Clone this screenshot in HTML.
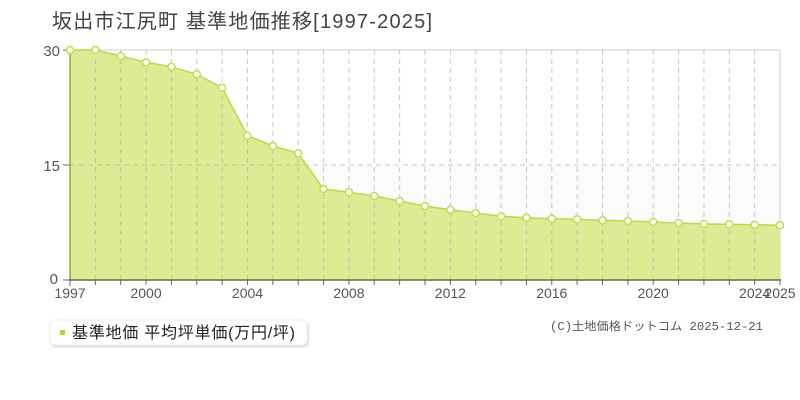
<!DOCTYPE html>
<html>
<head>
<meta charset="utf-8">
<style>
html,body{margin:0;padding:0;background:#fff;}
body{width:800px;height:400px;overflow:hidden;position:relative;font-family:"Liberation Sans","Noto Sans CJK JP",sans-serif;}
svg{position:absolute;left:0;top:0;}
</style>
</head>
<body>
<svg width="800" height="400" viewBox="0 0 800 400" xmlns="http://www.w3.org/2000/svg">
  <defs>
    <filter id="sh" x="-10%" y="-30%" width="120%" height="180%">
      <feDropShadow dx="1" dy="1.5" stdDeviation="1.2" flood-color="#000" flood-opacity="0.18"/>
    </filter>
  </defs>
  <!-- title -->
  <text x="52" y="28" font-size="20" fill="#444" font-family="'Liberation Sans','Noto Sans CJK JP',sans-serif" textLength="380" lengthAdjust="spacing">坂出市江尻町 基準地価推移[1997-2025]</text>

  <!-- plot bg bands -->
  <rect x="70" y="165" width="710" height="115" fill="#fcfbfc"/>
  <!-- top & right border -->
  <line x1="70" y1="50" x2="780" y2="50" stroke="#dddddd" stroke-width="1.5"/>
  <line x1="780" y1="50" x2="780" y2="280" stroke="#dddddd" stroke-width="1.5"/>

  <!-- area -->
  <polygon fill="#dcec94" points="70,280 70,50 95.36,50 120.71,56 146.07,62.3 171.43,66.7 196.79,74.3 222.14,87.7 247.5,135.7 272.86,146 298.21,153.3 323.57,189 348.93,192.3 374.29,196 399.64,201 425,206 450.36,209.7 475.71,213 501.07,216.3 526.43,217.7 551.79,218.7 577.14,219.3 602.5,220.3 627.86,221 653.21,222 678.57,223 703.93,224 729.29,224.3 754.64,224.7 780,225.3 780,280"/>

  <!-- grid -->
  <g stroke="#b4b4b4" stroke-opacity="0.75" stroke-width="1" stroke-dasharray="5,4">
    <line x1="70" y1="165" x2="780" y2="165"/>
    <line x1="95.36" y1="50" x2="95.36" y2="280"/>
    <line x1="120.71" y1="50" x2="120.71" y2="280"/>
    <line x1="146.07" y1="50" x2="146.07" y2="280"/>
    <line x1="171.43" y1="50" x2="171.43" y2="280"/>
    <line x1="196.79" y1="50" x2="196.79" y2="280"/>
    <line x1="222.14" y1="50" x2="222.14" y2="280"/>
    <line x1="247.5" y1="50" x2="247.5" y2="280"/>
    <line x1="272.86" y1="50" x2="272.86" y2="280"/>
    <line x1="298.21" y1="50" x2="298.21" y2="280"/>
    <line x1="323.57" y1="50" x2="323.57" y2="280"/>
    <line x1="348.93" y1="50" x2="348.93" y2="280"/>
    <line x1="374.29" y1="50" x2="374.29" y2="280"/>
    <line x1="399.64" y1="50" x2="399.64" y2="280"/>
    <line x1="425" y1="50" x2="425" y2="280"/>
    <line x1="450.36" y1="50" x2="450.36" y2="280"/>
    <line x1="475.71" y1="50" x2="475.71" y2="280"/>
    <line x1="501.07" y1="50" x2="501.07" y2="280"/>
    <line x1="526.43" y1="50" x2="526.43" y2="280"/>
    <line x1="551.79" y1="50" x2="551.79" y2="280"/>
    <line x1="577.14" y1="50" x2="577.14" y2="280"/>
    <line x1="602.5" y1="50" x2="602.5" y2="280"/>
    <line x1="627.86" y1="50" x2="627.86" y2="280"/>
    <line x1="653.21" y1="50" x2="653.21" y2="280"/>
    <line x1="678.57" y1="50" x2="678.57" y2="280"/>
    <line x1="703.93" y1="50" x2="703.93" y2="280"/>
    <line x1="729.29" y1="50" x2="729.29" y2="280"/>
    <line x1="754.64" y1="50" x2="754.64" y2="280"/>
  </g>

  <!-- line -->
  <polyline fill="none" stroke="#bcdc38" stroke-width="1.5" points="70,50 95.36,50 120.71,56 146.07,62.3 171.43,66.7 196.79,74.3 222.14,87.7 247.5,135.7 272.86,146 298.21,153.3 323.57,189 348.93,192.3 374.29,196 399.64,201 425,206 450.36,209.7 475.71,213 501.07,216.3 526.43,217.7 551.79,218.7 577.14,219.3 602.5,220.3 627.86,221 653.21,222 678.57,223 703.93,224 729.29,224.3 754.64,224.7 780,225.3"/>

  <!-- axes -->
  <line x1="70" y1="50" x2="70" y2="280" stroke="#8fa63a" stroke-width="1.5"/>
  <line x1="69" y1="280" x2="781" y2="280" stroke="#666" stroke-width="1.5"/>
  <g stroke="#666" stroke-width="1">
    <line x1="63" y1="50" x2="70" y2="50"/>
    <line x1="63" y1="165" x2="70" y2="165"/>
    <line x1="63" y1="280" x2="70" y2="280"/>
    <line x1="70" y1="280" x2="70" y2="286"/>
    <line x1="95.36" y1="280" x2="95.36" y2="285"/>
    <line x1="120.71" y1="280" x2="120.71" y2="285"/>
    <line x1="146.07" y1="280" x2="146.07" y2="285"/>
    <line x1="171.43" y1="280" x2="171.43" y2="285"/>
    <line x1="196.79" y1="280" x2="196.79" y2="285"/>
    <line x1="222.14" y1="280" x2="222.14" y2="285"/>
    <line x1="247.5" y1="280" x2="247.5" y2="285"/>
    <line x1="272.86" y1="280" x2="272.86" y2="285"/>
    <line x1="298.21" y1="280" x2="298.21" y2="285"/>
    <line x1="323.57" y1="280" x2="323.57" y2="285"/>
    <line x1="348.93" y1="280" x2="348.93" y2="285"/>
    <line x1="374.29" y1="280" x2="374.29" y2="285"/>
    <line x1="399.64" y1="280" x2="399.64" y2="285"/>
    <line x1="425" y1="280" x2="425" y2="285"/>
    <line x1="450.36" y1="280" x2="450.36" y2="285"/>
    <line x1="475.71" y1="280" x2="475.71" y2="285"/>
    <line x1="501.07" y1="280" x2="501.07" y2="285"/>
    <line x1="526.43" y1="280" x2="526.43" y2="285"/>
    <line x1="551.79" y1="280" x2="551.79" y2="285"/>
    <line x1="577.14" y1="280" x2="577.14" y2="285"/>
    <line x1="602.5" y1="280" x2="602.5" y2="285"/>
    <line x1="627.86" y1="280" x2="627.86" y2="285"/>
    <line x1="653.21" y1="280" x2="653.21" y2="285"/>
    <line x1="678.57" y1="280" x2="678.57" y2="285"/>
    <line x1="703.93" y1="280" x2="703.93" y2="285"/>
    <line x1="729.29" y1="280" x2="729.29" y2="285"/>
    <line x1="754.64" y1="280" x2="754.64" y2="285"/>
    <line x1="780" y1="280" x2="780" y2="285"/>
  </g>

  <!-- markers -->
  <g fill="#fff" stroke="#c3df45" stroke-width="1.5">
    <circle cx="70" cy="50" r="3.5"/>
    <circle cx="95.36" cy="50" r="3.5"/>
    <circle cx="120.71" cy="56" r="3.5"/>
    <circle cx="146.07" cy="62.3" r="3.5"/>
    <circle cx="171.43" cy="66.7" r="3.5"/>
    <circle cx="196.79" cy="74.3" r="3.5"/>
    <circle cx="222.14" cy="87.7" r="3.5"/>
    <circle cx="247.5" cy="135.7" r="3.5"/>
    <circle cx="272.86" cy="146" r="3.5"/>
    <circle cx="298.21" cy="153.3" r="3.5"/>
    <circle cx="323.57" cy="189" r="3.5"/>
    <circle cx="348.93" cy="192.3" r="3.5"/>
    <circle cx="374.29" cy="196" r="3.5"/>
    <circle cx="399.64" cy="201" r="3.5"/>
    <circle cx="425" cy="206" r="3.5"/>
    <circle cx="450.36" cy="209.7" r="3.5"/>
    <circle cx="475.71" cy="213" r="3.5"/>
    <circle cx="501.07" cy="216.3" r="3.5"/>
    <circle cx="526.43" cy="217.7" r="3.5"/>
    <circle cx="551.79" cy="218.7" r="3.5"/>
    <circle cx="577.14" cy="219.3" r="3.5"/>
    <circle cx="602.5" cy="220.3" r="3.5"/>
    <circle cx="627.86" cy="221" r="3.5"/>
    <circle cx="653.21" cy="222" r="3.5"/>
    <circle cx="678.57" cy="223" r="3.5"/>
    <circle cx="703.93" cy="224" r="3.5"/>
    <circle cx="729.29" cy="224.3" r="3.5"/>
    <circle cx="754.64" cy="224.7" r="3.5"/>
    <circle cx="780" cy="225.3" r="3.5"/>
  </g>

  <!-- y labels -->
  <g font-size="15" fill="#555" text-anchor="end" font-family="'Liberation Sans',sans-serif">
    <text x="60" y="56">30</text>
    <text x="60" y="171">15</text>
    <text x="58" y="284">0</text>
  </g>
  <!-- x labels -->
  <g font-size="14" fill="#555" text-anchor="middle" font-family="'Liberation Sans',sans-serif">
    <text x="70" y="298">1997</text>
    <text x="146.07" y="298">2000</text>
    <text x="247.5" y="298">2004</text>
    <text x="348.93" y="298">2008</text>
    <text x="450.36" y="298">2012</text>
    <text x="551.79" y="298">2016</text>
    <text x="653.21" y="298">2020</text>
    <text x="754.64" y="298">2024</text>
    <text x="780" y="298">2025</text>
  </g>

  <!-- legend -->
  <rect x="50" y="320" width="257" height="25" rx="5" ry="5" fill="#fff" stroke="#eeeeee" stroke-width="1" filter="url(#sh)"/>
  <rect x="60" y="330" width="5" height="5" fill="#b5d624"/>
  <text x="72" y="338" font-size="16" fill="#222" font-family="'Liberation Sans','Noto Sans CJK JP',sans-serif" textLength="223" lengthAdjust="spacing">基準地価 平均坪単価(万円/坪)</text>

  <!-- copyright -->
  <text x="550" y="330" font-size="11.5" fill="#555" font-family="'Liberation Mono','Noto Sans CJK JP',monospace" textLength="213" lengthAdjust="spacingAndGlyphs">(C)土地価格ドットコム 2025-12-21</text>
</svg>
</body>
</html>
